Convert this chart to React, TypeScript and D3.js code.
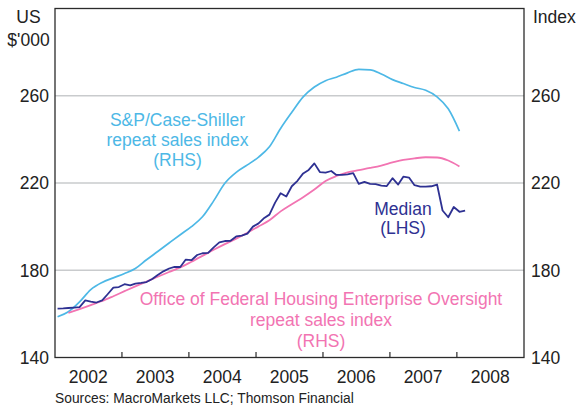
import React, { useEffect, useRef } from 'react';
import * as d3 from 'd3';

// monthly median price, US$'000, from Jan 2002
const medianValues = [
  162.4, 162.5, 162.7, 162.9, 163.1, 166.2, 165.6, 165.2, 166.2, 169.0, 172.0, 172.3,
  173.6, 173.1, 173.9, 174.2, 174.6, 176.0, 177.8, 179.5, 180.8, 181.5, 181.5, 184.9,
  184.6, 187.0, 187.8, 188.0, 190.5, 192.8, 193.4, 193.5, 195.5, 195.9, 196.8, 200.0,
  201.5, 204.0, 205.5, 211.0, 215.3, 213.8, 218.5, 221.0, 224.4, 226.0, 229.0, 225.0,
  224.8, 225.5, 223.7, 223.7, 224.0, 224.5, 219.6, 220.5, 219.6, 219.5, 218.8, 218.6,
  222.2, 219.3, 222.9, 222.5, 219.0, 218.3, 218.3, 218.5, 219.3, 207.4, 204.3, 209.0,
  206.8, 207.3,
];

// S&P/Case-Shiller index, every second month from Jan 2002
const caseShillerValues = [
  158.7, 161.0, 165.5, 171.1, 174.4, 176.5, 178.5, 180.8, 184.8, 188.6, 192.5, 196.3,
  200.0, 204.5, 211.8, 219.9, 224.9, 228.3, 231.9, 236.6, 245.0, 252.4, 259.5, 264.0,
  266.9, 268.5, 270.5, 272.1, 271.9, 270.0, 267.4, 265.6, 263.8, 262.5, 259.5, 254.0,
  243.8,
];

// OFHEO index, every second month from Mar 2002
const ofheoValues = [
  160.5, 162.2, 164.0, 165.9, 168.1, 170.4, 172.6, 174.8, 177.0, 179.2, 181.3, 183.9,
  186.6, 189.4, 192.0, 194.5, 197.2, 200.1, 202.9, 207.0, 210.3, 213.5, 217.0, 220.9,
  223.2, 224.9, 225.9, 226.9, 228.0, 229.4, 230.6, 231.3, 231.8, 231.7, 230.3, 227.6,
];

const years = [2002, 2003, 2004, 2005, 2006, 2007, 2008];
const yTicks = [140, 180, 220, 260];

const W = 580, H = 407;
const left = 55, right = 524, top = 8.5, bottom = 357.5;
const font = 'Liberation Sans, Arial, Helvetica, sans-serif';
const navy = '#2e3192', cyan = '#4db8e6', pink = '#f274b2';

const monthDate = (startMonth: number, k: number) => new Date(2002, startMonth + k, 15);

export default function App() {
  const ref = useRef<SVGSVGElement>(null);

  useEffect(() => {
    const svg = d3.select(ref.current);
    svg.selectAll('*').remove();

    const x = d3.scaleTime()
      .domain([new Date(2002, 0, 1), new Date(2009, 0, 1)])
      .range([left, right]);
    const y = d3.scaleLinear().domain([140, 300]).range([bottom, top]);

    // gridlines
    svg.append('g')
      .selectAll('line')
      .data(yTicks.slice(1))
      .join('line')
      .attr('x1', left).attr('x2', right)
      .attr('y1', d => y(d)).attr('y2', d => y(d))
      .attr('stroke', '#c9cbcd').attr('stroke-width', 1.3);

    const series = [
      { vals: caseShillerValues, start: 0, step: 2, color: cyan, w: 1.7, curve: d3.curveMonotoneX },
      { vals: ofheoValues, start: 2, step: 2, color: pink, w: 1.8, curve: d3.curveMonotoneX },
      { vals: medianValues, start: 0, step: 1, color: navy, w: 1.8, curve: d3.curveLinear },
    ];
    series.forEach(s => {
      const line = d3.line<number>()
        .x((d, i) => x(monthDate(s.start, i * s.step)))
        .y(d => y(d))
        .curve(s.curve);
      svg.append('path')
        .datum(s.vals)
        .attr('fill', 'none')
        .attr('stroke', s.color)
        .attr('stroke-width', s.w)
        .attr('stroke-linejoin', 'round')
        .attr('d', line);
    });

    // frame
    svg.append('rect')
      .attr('x', left).attr('y', top)
      .attr('width', right - left).attr('height', bottom - top)
      .attr('fill', 'none').attr('stroke', '#2b2b2b').attr('stroke-width', 1.3);

    // year ticks on bottom axis
    svg.append('g')
      .selectAll('line')
      .data(years.slice(1))
      .join('line')
      .attr('x1', d => x(new Date(d, 0, 1))).attr('x2', d => x(new Date(d, 0, 1)))
      .attr('y1', bottom).attr('y2', bottom - 5.5)
      .attr('stroke', '#2b2b2b').attr('stroke-width', 1.2);

    const txt = svg.append('g').attr('font-family', font).attr('fill', '#222');

    txt.selectAll('text.yl')
      .data(yTicks)
      .join('text')
      .attr('class', 'yl')
      .attr('x', left - 6).attr('y', d => y(d) + 6.3)
      .attr('text-anchor', 'end').attr('font-size', 17.5)
      .text(d => d);
    txt.selectAll('text.yr')
      .data(yTicks)
      .join('text')
      .attr('class', 'yr')
      .attr('x', right + 7).attr('y', d => y(d) + 6.3)
      .attr('font-size', 17.5)
      .text(d => d);
    txt.selectAll('text.xl')
      .data(years)
      .join('text')
      .attr('class', 'xl')
      .attr('x', d => x(new Date(d, 6, 1))).attr('y', 383)
      .attr('text-anchor', 'middle').attr('font-size', 17.5)
      .text(d => d);

    txt.append('text').attr('x', 28.5).attr('y', 23.3).attr('text-anchor', 'middle')
      .attr('font-size', 17.5).text('US');
    txt.append('text').attr('x', 28.5).attr('y', 46.3).attr('text-anchor', 'middle')
      .attr('font-size', 17.5).text("$'000");
    txt.append('text').attr('x', 533).attr('y', 23.3)
      .attr('font-size', 17.5).text('Index');
    txt.append('text').attr('x', 55).attr('y', 403)
      .attr('font-size', 13.8).text('Sources: MacroMarkets LLC; Thomson Financial');

    const label = (lines: string[], cx: number, y0: number, dy: number, color: string) => {
      lines.forEach((l, i) => {
        svg.append('text')
          .attr('font-family', font).attr('font-size', 17.5)
          .attr('fill', color).attr('text-anchor', 'middle')
          .attr('x', cx).attr('y', y0 + i * dy)
          .text(l);
      });
    };
    label(['S&P/Case-Shiller', 'repeat sales index', '(RHS)'], 177.5, 126, 20.2, cyan);
    label(['Median', '(LHS)'], 403, 214.5, 19.5, navy);
    label(['Office of Federal Housing Enterprise Oversight', 'repeat sales index', '(RHS)'],
      321, 304.5, 21, pink);
  }, []);

  return (
    <svg ref={ref} width={W} height={H}
      style={{ position: 'absolute', left: 0, top: 0, background: '#fff' }} />
  );
}
